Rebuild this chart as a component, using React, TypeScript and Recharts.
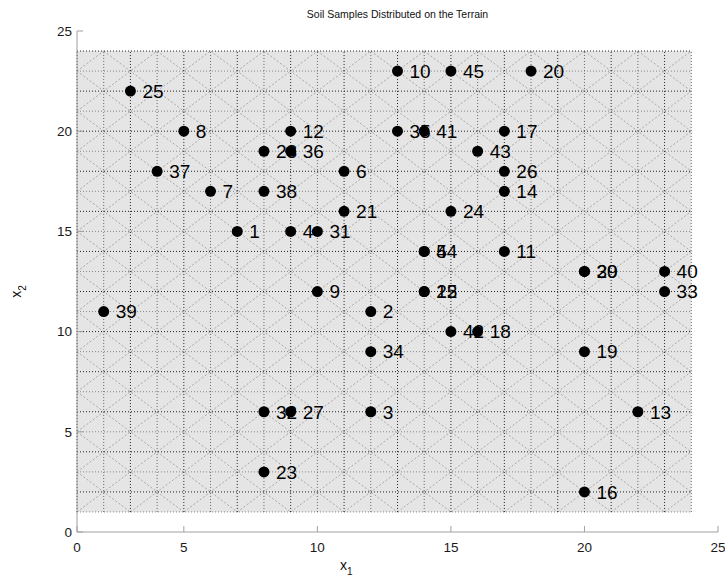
import {
  ScatterChart,
  Scatter,
  XAxis,
  YAxis,
  ReferenceArea,
  ReferenceLine,
  Label,
} from "recharts";

// sample number, x1 and x2 position on the terrain
const sampleIds = [
  1, 2, 3, 4, 5, 6, 7, 8, 9, 10, 11, 12, 13, 14, 15, 16, 17, 18, 19, 20, 21, 22, 23,
  24, 25, 26, 27, 28, 29, 30, 31, 32, 33, 34, 35, 36, 37, 38, 39, 40, 41, 42, 43, 44, 45,
];
const sampleX = [
  7, 12, 12, 9, 14, 11, 6, 5, 10, 13, 17, 9, 22, 17, 14, 20, 17, 16, 20, 18, 11, 14, 8,
  15, 3, 17, 9, 8, 20, 20, 10, 8, 23, 12, 13, 9, 4, 8, 2, 23, 14, 15, 16, 14, 15,
];
const sampleY = [
  15, 11, 6, 15, 14, 18, 17, 20, 12, 23, 14, 20, 6, 17, 12, 2, 20, 10, 9, 23, 16, 12, 3,
  16, 22, 18, 6, 19, 13, 13, 15, 6, 12, 9, 20, 19, 18, 17, 11, 13, 20, 10, 19, 14, 23,
];

const xTicks = [1, 5, 10, 15, 20, 25];
const xTickLabels = ["0", "5", "10", "15", "20", "25"];
const yTicks = [0, 5, 10, 15, 20, 25];

// terrain mesh extent
const TERRAIN_MIN = 1;
const TERRAIN_MAX = 24;
const meshSteps = Array.from({ length: TERRAIN_MAX - TERRAIN_MIN + 1 }, (_, i) => TERRAIN_MIN + i);

const samples = sampleIds.map((id, i) => ({ id, x: sampleX[i], y: sampleY[i] }));

type Seg = [{ x: number; y: number }, { x: number; y: number }];

function meshDiagonals(): Seg[] {
  const segs: Seg[] = [];
  // lines x - y = c
  for (let c = -22; c <= 22; c += 2) {
    if (c >= 0) segs.push([{ x: TERRAIN_MIN + c, y: TERRAIN_MIN }, { x: TERRAIN_MAX, y: TERRAIN_MAX - c }]);
    else segs.push([{ x: TERRAIN_MIN, y: TERRAIN_MIN - c }, { x: TERRAIN_MAX + c, y: TERRAIN_MAX }]);
  }
  // lines x + y = s
  for (let s = 4; s <= 46; s += 2) {
    const xa = Math.max(TERRAIN_MIN, s - TERRAIN_MAX);
    const xb = Math.min(TERRAIN_MAX, s - TERRAIN_MIN);
    segs.push([{ x: xa, y: s - xa }, { x: xb, y: s - xb }]);
  }
  return segs;
}

const FONT = "'Liberation Sans', Arial, sans-serif";

function SampleLabel(props: any) {
  const { cx, cy, payload } = props;
  return (
    <text x={cx + 12} y={cy} dy="0.36em" fontSize={19} fontFamily={FONT} fill="#000">
      {payload.id}
    </text>
  );
}

function SampleDot(props: any) {
  const { cx, cy } = props;
  return <circle cx={cx} cy={cy} r={5.5} fill="#000" />;
}

export default function App() {
  const diagonals = meshDiagonals();
  return (
    <div style={{ position: "absolute", left: 0, top: 0, width: 725, height: 580, background: "#fff" }}>
      <div
        style={{
          position: "absolute",
          left: 77,
          width: 641,
          top: 8,
          textAlign: "center",
          fontFamily: FONT,
          fontSize: 10.5,
          color: "#111",
        }}
      >
        Soil Samples Distributed on the Terrain
      </div>
      <ScatterChart width={725} height={580} margin={{ top: 31, right: 7, bottom: 0, left: 0 }}>
        <XAxis
          type="number"
          dataKey="x"
          domain={[1, 25]}
          ticks={xTicks}
          tickFormatter={(v: number) => xTickLabels[xTicks.indexOf(v)]}
          interval={0}
          height={48}
          tickSize={-6}
          tickMargin={16}
          stroke="#a0a0a0"
          tick={{ fill: "#1a1a1a", fontSize: 13.5, fontFamily: FONT }}
          allowDataOverflow
        >
          <Label
            content={(p: any) => {
              const vb = p.viewBox;
              return (
                <text x={vb.x + vb.width * 0.42} y={vb.y + 38} fontFamily={FONT} fontSize={14} fill="#111" textAnchor="middle">
                  x<tspan fontSize={10} dy={5}>1</tspan>
                </text>
              );
            }}
          />
        </XAxis>
        <YAxis
          type="number"
          dataKey="y"
          domain={[0, 25]}
          ticks={yTicks}
          interval={0}
          width={77}
          tickSize={-6}
          tickMargin={11}
          stroke="#a0a0a0"
          tick={{ fill: "#1a1a1a", fontSize: 13.5, fontFamily: FONT }}
          allowDataOverflow
        >
          <Label
            content={(p: any) => {
              const vb = p.viewBox;
              const cx = 21;
              const cy = vb.y + vb.height * 0.52;
              return (
                <text x={cx} y={cy} transform={`rotate(-90 ${cx} ${cy})`} fontFamily={FONT} fontSize={14} fill="#111" textAnchor="middle">
                  x<tspan fontSize={10} dy={5}>2</tspan>
                </text>
              );
            }}
          />
        </YAxis>
        <ReferenceArea
          x1={TERRAIN_MIN}
          x2={TERRAIN_MAX}
          y1={TERRAIN_MIN}
          y2={TERRAIN_MAX}
          fill="#e5e5e5"
          fillOpacity={1}
          stroke="none"
        />
        {diagonals.map((seg, i) => (
          <ReferenceLine key={`d${i}`} segment={seg} stroke="#a8a8a8" strokeDasharray="2 2" strokeWidth={1} />
        ))}
        {meshSteps.map((v) => (
          <ReferenceLine
            key={`h${v}`}
            segment={[{ x: TERRAIN_MIN, y: v }, { x: TERRAIN_MAX, y: v }]}
            stroke={v % 2 === 0 ? "#222" : "#888"}
            strokeDasharray="1 2"
          />
        ))}
        {meshSteps.map((v) => (
          <ReferenceLine
            key={`v${v}`}
            segment={[{ x: v, y: TERRAIN_MIN }, { x: v, y: TERRAIN_MAX }]}
            stroke={v % 2 === 1 ? "#222" : "#666"}
            strokeDasharray="1 2"
          />
        ))}
        <Scatter data={samples} shape={SampleLabel} isAnimationActive={false} />
        <Scatter data={samples} shape={SampleDot} isAnimationActive={false} />
      </ScatterChart>
    </div>
  );
}
